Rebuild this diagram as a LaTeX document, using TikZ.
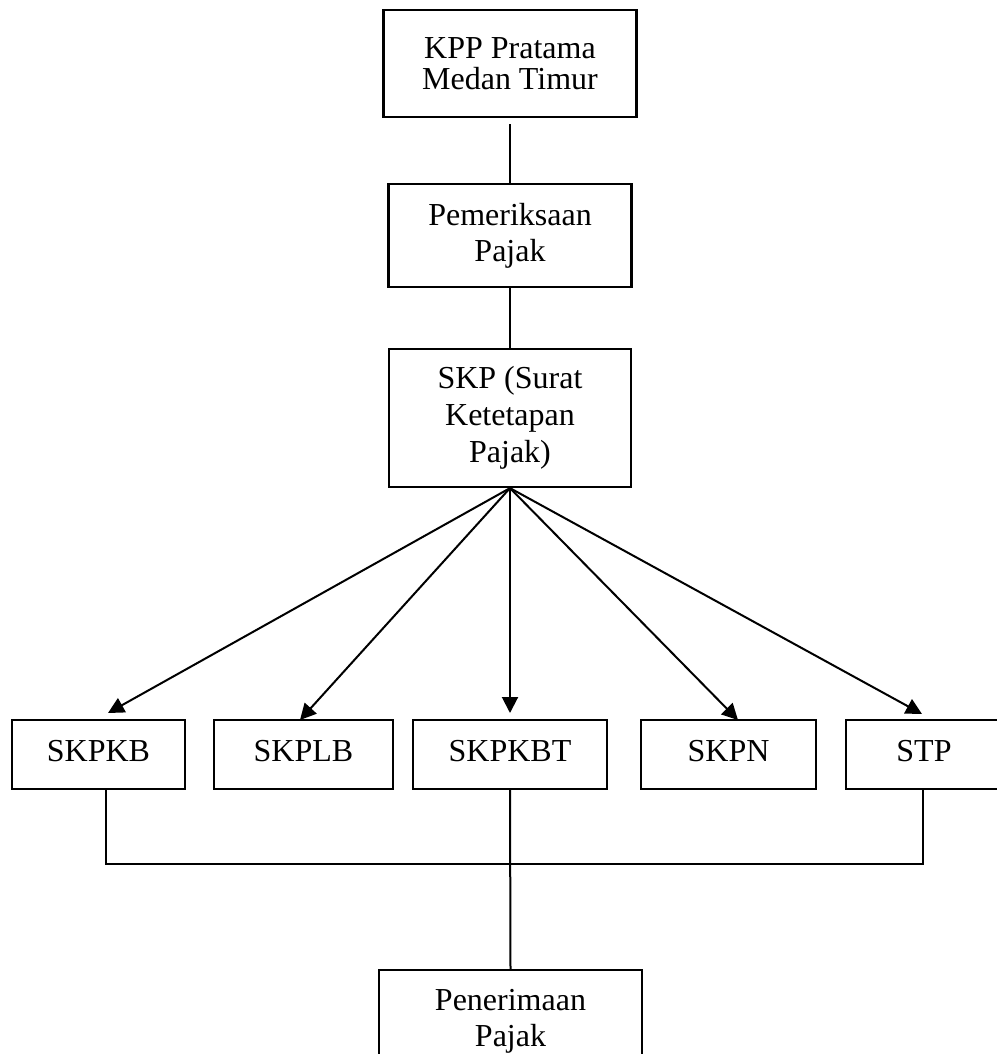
\documentclass[tikz,border=0pt]{standalone}
\usepackage{fontspec}
\setmainfont{Liberation Serif}
\usetikzlibrary{arrows.meta}
\begin{document}
\begin{tikzpicture}[x=1pt,y=-1pt,
  box/.style={draw, line width=2.2pt, inner sep=0pt, align=center, minimum height=69pt},
  txt/.style={font=\fontsize{32}{36}\selectfont},
  conn/.style={line width=2pt},
  arr/.style={line width=2pt, -{Triangle[length=16pt,width=16pt]}}]
\useasboundingbox (0,0) rectangle (996,1054);
\fill[white] (0,0) rectangle (996,1054);
% top column
\node[box, minimum width=253pt, minimum height=107pt, font=\fontsize{32}{31}\selectfont] (kpp) at (510,63.5) {KPP Pratama\\Medan Timur};
\node[box, txt, minimum width=243pt, minimum height=103pt] (pem) at (510,235.5) {Pemeriksaan\\Pajak};
\node[box, minimum width=242pt, minimum height=138pt, font=\fontsize{32}{37}\selectfont] (skp) at (510,418) {SKP (Surat\\Ketetapan\\Pajak)};
% bottom row
\node[box, txt, minimum width=173pt, text depth=7pt] (skpkb) at (98.5,754.5) {SKPKB};
\node[box, txt, minimum width=179pt, text depth=7pt] (skplb) at (303.5,754.5) {SKPLB};
\node[box, txt, minimum width=194pt, text depth=7pt] (skpkbt) at (510,754.5) {SKPKBT};
\node[box, txt, minimum width=175pt, text depth=7pt] (skpn) at (728.5,754.5) {SKPN};
\node[box, txt, minimum width=156pt, text depth=7pt] (stp) at (924,754.5) {STP};
\node[box, txt, minimum width=263pt, minimum height=103pt] (pen) at (510.5,1021.5) {Penerimaan\\Pajak};
% vertical links
\draw[conn, shorten <=6pt] (kpp.south) -- (pem.north);
\draw[conn] (pem.south) -- (skp.north);
% arrow tips
\coordinate (tkb) at (108,713);
\coordinate (tlb) at (300,720);
\coordinate (tkbt) at (510,713);
\coordinate (tn) at (738,720);
\coordinate (tstp) at (922,714);
\draw[arr] (skp.south) -- (tkb);
\draw[arr] (skp.south) -- (tlb);
\draw[arr] (skp.south) -- (tkbt);
\draw[arr] (skp.south) -- (tn);
\draw[arr] (skp.south) -- (tstp);
% bottom bracket
\coordinate (j1) at (106,864);
\coordinate (j2) at (923,864);
\draw[conn] (skpkb.south -| j1) -- (j1) -- (j2) -- (stp.south -| j2);
\draw[conn] (skpkbt.south) -- (pen.north);
\end{tikzpicture}
\end{document}
